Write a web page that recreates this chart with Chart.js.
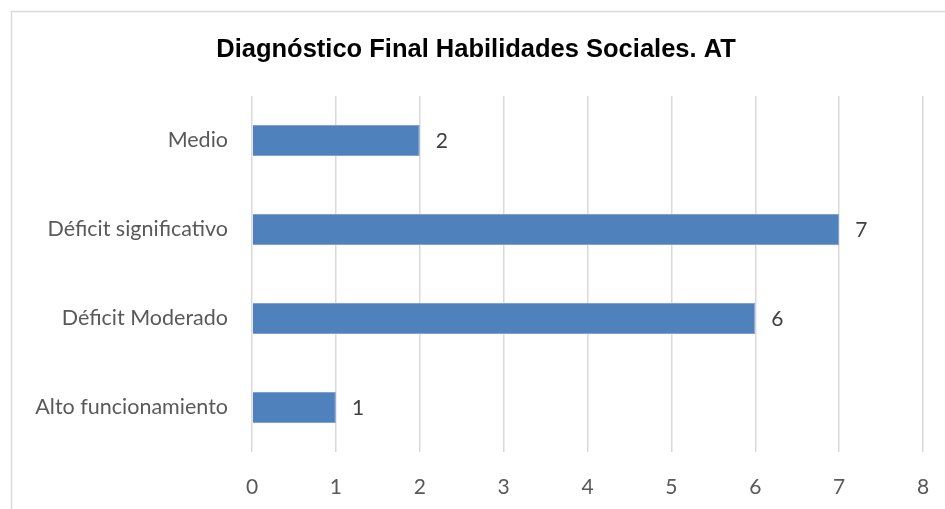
<!DOCTYPE html>
<html>
<head>
<meta charset="utf-8">
<script src="https://cdn.jsdelivr.net/npm/chart.js@4/dist/chart.umd.min.js"></script>
<style>
html,body{margin:0;padding:0;background:#fff;}
#wrap{position:absolute;left:0;top:0;width:945px;height:509px;}
</style>
</head>
<body>
<div id="wrap"><canvas id="c" width="945" height="509"></canvas></div>
<script>
const categories = ['Medio', 'Déficit significativo', 'Déficit Moderado', 'Alto funcionamiento'];
const values = [2, 7, 6, 1];
const xTicks = [0, 1, 2, 3, 4, 5, 6, 7, 8];
const titleText = 'Diagnóstico Final Habilidades Sociales. AT';

const framePlugin = {
  id: 'frame',
  beforeDraw(chart) {
    const ctx = chart.ctx;
    ctx.save();
    ctx.fillStyle = '#ffffff';
    ctx.fillRect(0, 0, chart.width, chart.height);
    ctx.strokeStyle = '#d9d9d9';
    ctx.lineWidth = 1.5;
    ctx.strokeRect(11.5, 11.5, chart.width + 20, chart.height + 20);
    ctx.restore();
  }
};

const valueLabels = {
  id: 'valueLabels',
  afterDatasetsDraw(chart) {
    const ctx = chart.ctx;
    const meta = chart.getDatasetMeta(0);
    ctx.save();
    ctx.font = '21px Lato, "Open Sans", sans-serif';
    ctx.fillStyle = '#404040';
    ctx.textAlign = 'left';
    ctx.textBaseline = 'middle';
    meta.data.forEach((bar, i) => {
      ctx.fillText(String(chart.data.datasets[0].data[i]), bar.x + 16, bar.y + 1);
    });
    ctx.restore();
  }
};

new Chart(document.getElementById('c'), {
  type: 'bar',
  data: {
    labels: categories,
    datasets: [{
      data: values,
      backgroundColor: '#4f81bd',
      borderColor: '#7ea3d3',
      borderWidth: 1,
      categoryPercentage: 1.0,
      barPercentage: 0.35
    }]
  },
  options: {
    indexAxis: 'y',
    responsive: false,
    animation: false,
    devicePixelRatio: 1,
    layout: { padding: { left: 29, right: 22, top: 0, bottom: 11 } },
    plugins: {
      legend: { display: false },
      tooltip: { enabled: false },
      title: {
        display: true,
        text: titleText,
        color: '#000000',
        font: { family: '"Liberation Sans", Arial, sans-serif', size: 25.5, weight: 'bold', lineHeight: 1.2 },
        padding: { top: 35, bottom: 30.4 }
      }
    },
    scales: {
      x: {
        min: 0,
        max: 8,
        afterBuildTicks(scale) { scale.ticks = xTicks.map(v => ({ value: v })); },
        afterFit(scale) { scale.height = 46; scale.paddingLeft = 0; scale.paddingRight = 0; },
        grid: { color: '#d9d9d9', lineWidth: 1.5, drawTicks: false },
        border: { display: false },
        ticks: {
          color: '#595959',
          padding: 23,
          font: { family: 'Lato, "Open Sans", sans-serif', size: 21 }
        }
      },
      y: {
        afterFit(scale) { scale.width = 223; },
        grid: { display: false, drawTicks: false },
        border: { display: false },
        ticks: {
          color: '#595959',
          padding: 24,
          font: { family: 'Lato, "Open Sans", sans-serif', size: 21.5 }
        }
      }
    }
  },
  plugins: [framePlugin, valueLabels]
});
</script>
</body>
</html>
